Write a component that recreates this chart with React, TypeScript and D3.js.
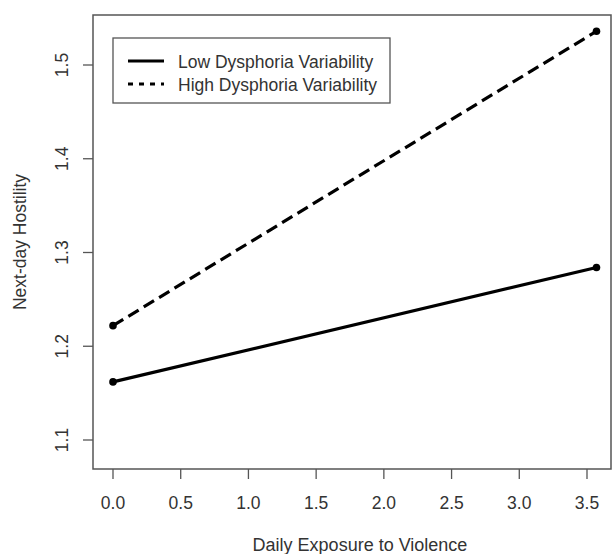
import React from 'react';
import * as d3 from 'd3';

const xTicks = [0, 0.5, 1, 1.5, 2, 2.5, 3, 3.5];
const yTicks = [1.1, 1.2, 1.3, 1.4, 1.5];
const exposure = [0, 3.57];
const lowValues = [1.162, 1.284];
const highValues = [1.222, 1.536];
const seriesNames = ['Low Dysphoria Variability', 'High Dysphoria Variability'];

const W = 613;
const H = 554;
const box = { left: 93, top: 15, right: 611, bottom: 469 };
const axisColor = '#555';
const textColor = '#333';
const font = 'Liberation Sans, Arial, sans-serif';

const App = () => {
  const x = d3.scaleLinear().domain([0, 3.5]).range([113, 587]);
  const y = d3.scaleLinear().domain([1.1, 1.5]).range([440, 65]);

  const line = d3.line<number>()
    .x((_, i) => x(exposure[i]))
    .y(d => y(d));

  const series = [
    { name: seriesNames[0], values: lowValues, dash: null },
    { name: seriesNames[1], values: highValues, dash: '12,6' },
  ];

  return (
    <svg width={W} height={H} style={{ position: 'absolute', left: 0, top: 0, background: '#fff' }}>
      <rect x={box.left} y={box.top} width={box.right - box.left} height={box.bottom - box.top}
        fill="none" stroke={axisColor} strokeWidth={1.5} />

      {/* x axis */}
      {xTicks.map(t => (
        <g key={'x' + t}>
          <line x1={x(t)} x2={x(t)} y1={box.bottom} y2={box.bottom + 10} stroke={axisColor} strokeWidth={1.3} />
          <text x={x(t)} y={509} textAnchor="middle" fontSize={17.5} fontFamily={font} fill={textColor}>
            {t.toFixed(1)}
          </text>
        </g>
      ))}
      <text x={360} y={551} textAnchor="middle" fontSize={18} fontFamily={font} fill={textColor}>
        Daily Exposure to Violence
      </text>

      {/* y axis */}
      {yTicks.map(t => (
        <g key={'y' + t}>
          <line x1={box.left - 10} x2={box.left} y1={y(t)} y2={y(t)} stroke={axisColor} strokeWidth={1.3} />
          <text transform={`translate(68,${y(t)}) rotate(-90)`} textAnchor="middle" fontSize={17.5}
            fontFamily={font} fill={textColor}>
            {t.toFixed(1)}
          </text>
        </g>
      ))}
      <text transform={`translate(26,${(box.top + box.bottom) / 2}) rotate(-90)`} textAnchor="middle"
        fontSize={17.5} fontFamily={font} fill={textColor}>
        Next-day Hostility
      </text>

      {/* lines */}
      {series.map(s => (
        <g key={s.name}>
          <path d={line(s.values) || ''} fill="none" stroke="#000" strokeWidth={3.2}
            strokeDasharray={s.dash || undefined} />
          {s.values.map((v, i) => (
            <circle key={i} cx={x(exposure[i])} cy={y(v)} r={3.8} fill="#000" />
          ))}
        </g>
      ))}

      {/* legend */}
      <rect x={113} y={38} width={277} height={65} fill="#fff" stroke={axisColor} strokeWidth={1.3} />
      {series.map((s, i) => (
        <g key={'leg' + i}>
          <line x1={128} x2={164} y1={61 + i * 23} y2={61 + i * 23} stroke="#000" strokeWidth={3}
            strokeDasharray={s.dash ? '5,6' : undefined} />
          <text x={178} y={68 + i * 23} fontSize={17.5} fontFamily={font} fill={textColor}>{s.name}</text>
        </g>
      ))}
    </svg>
  );
};

export default App;
